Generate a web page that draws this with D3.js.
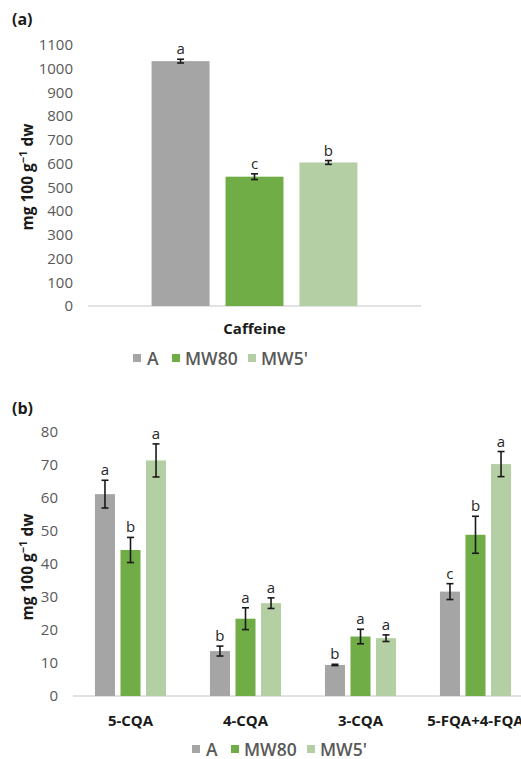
<!DOCTYPE html>
<html>
<head>
<meta charset="utf-8">
<script src="https://cdn.jsdelivr.net/npm/d3@7"></script>
<style>
  html, body { margin: 0; padding: 0; background: #fff; }
  svg { display: block; font-family: "Open Sans", "DejaVu Sans", sans-serif; }
</style>
</head>
<body>
<svg id="chart" width="521" height="759"></svg>
<script>
// Treatments shared by both panels
const series = ["A", "MW80", "MW5'"];
const seriesColors = ["#a5a5a5", "#70ad47", "#b3cfa3"];

// Panel (a): caffeine
const catsA = ["Caffeine"];
const meanA = [[1032], [545], [605]];     // per series, per category
const errA = [[8], [12], [8]];
const lettersA = [["a"], ["c"], ["b"]];
const ticksA = [0, 100, 200, 300, 400, 500, 600, 700, 800, 900, 1000, 1100];

// Panel (b): chlorogenic acids
const catsB = ["5-CQA", "4-CQA", "3-CQA", "5-FQA+4-FQA"];
const meanB = [
  [61.1, 13.6, 9.4, 31.6],
  [44.2, 23.4, 18.0, 48.8],
  [71.3, 28.1, 17.5, 70.2]
];
const errB = [
  [4.2, 1.5, 0.2, 2.4],
  [3.8, 3.3, 2.2, 5.6],
  [5.0, 1.6, 1.0, 3.8]
];
const lettersB = [
  ["a", "b", "b", "c"],
  ["b", "a", "a", "b"],
  ["a", "a", "a", "a"]
];
const ticksB = [0, 10, 20, 30, 40, 50, 60, 70, 80];

const svg = d3.select("#chart");

function panel(opts) {
  const g = svg.append("g");
  const y = d3.scaleLinear().domain(opts.domain).range([opts.bottom, opts.top]);
  const x0 = d3.scaleBand().domain(opts.cats).range([opts.left, opts.right]).padding(0);
  const x1 = d3.scaleBand().domain(series).range([0, x0.bandwidth()])
    .paddingInner(0.216).paddingOuter(0.86);

  // value axis labels
  const ax = g.append("g")
    .attr("transform", `translate(${opts.left},0)`)
    .call(d3.axisLeft(y).tickValues(opts.ticks).tickFormat(d3.format("d"))
      .tickSize(0).tickPadding(15));
  ax.select(".domain").remove();
  ax.selectAll("text")
    .attr("fill", "#595959")
    .style("font-size", "15px")
    .style("font-family", "'Open Sans', sans-serif");

  // baseline
  g.append("line")
    .attr("x1", opts.left).attr("x2", opts.right)
    .attr("y1", y(0)).attr("y2", y(0))
    .attr("stroke", "#d9d9d9").attr("stroke-width", 1.5);

  // bars, error bars, letters
  series.forEach((s, si) => {
    const sg = g.append("g");
    opts.cats.forEach((c, ci) => {
      const v = opts.mean[si][ci], e = opts.err[si][ci];
      const bx = x0(c) + x1(s), bw = x1.bandwidth(), cx = bx + bw / 2;
      sg.append("rect")
        .attr("x", bx).attr("y", y(v))
        .attr("width", bw).attr("height", y(0) - y(v))
        .attr("fill", seriesColors[si]);
      const eg = sg.append("g").attr("stroke", "#1a1a1a").attr("stroke-width", 1.6);
      eg.append("line").attr("x1", cx).attr("x2", cx).attr("y1", y(v + e)).attr("y2", y(v - e));
      [v + e, v - e].forEach(t => eg.append("line")
        .attr("x1", cx - 3.5).attr("x2", cx + 3.5).attr("y1", y(t)).attr("y2", y(t)));
      sg.append("text")
        .attr("x", cx).attr("y", y(v + e) - 5)
        .attr("text-anchor", "middle")
        .attr("fill", "#262626")
        .style("font-size", "15px")
        .text(opts.letters[si][ci]);
    });
  });

  // category labels
  opts.cats.forEach(c => {
    g.append("text")
      .attr("x", x0(c) + x0.bandwidth() / 2).attr("y", opts.catY)
      .attr("text-anchor", "middle")
      .attr("fill", "#1a1a1a")
      .style("font-size", "15px").style("font-weight", "700")
      .text(c);
  });

  // axis title
  const t = g.append("text")
    .attr("transform", `translate(33,${opts.titleY}) rotate(-90)`)
    .attr("text-anchor", "middle")
    .attr("fill", "#1a1a1a")
    .style("font-size", "15.5px").style("font-weight", "700");
  t.append("tspan").text("mg 100 g");
  t.append("tspan").attr("dy", -6).style("font-size", "11px").text("\u22121");
  t.append("tspan").attr("dy", 6).text(" dw");

  // panel tag
  svg.append("text")
    .attr("x", 12).attr("y", opts.tagY)
    .attr("fill", "#1a1a1a")
    .style("font-size", "16px").style("font-weight", "700")
    .text(opts.tag);

  // legend
  const lg = g.append("g");
  const lx = opts.legendX;
  const boxX = [lx, lx + 39, lx + 115];
  const textX = [lx + 14, lx + 52, lx + 128];
  series.forEach((s, si) => {
    lg.append("rect")
      .attr("x", boxX[si]).attr("y", opts.legendY - 4)
      .attr("width", 8).attr("height", 8)
      .attr("fill", seriesColors[si]);
    lg.append("text")
      .attr("x", textX[si]).attr("y", opts.legendY + 6.5)
      .attr("fill", "#595959")
      .style("font-size", "17.5px").style("font-weight", "600")
      .text(s);
  });
}

panel({
  cats: catsA, mean: meanA, err: errA, letters: lettersA, ticks: ticksA,
  domain: [0, 1100], top: 45, bottom: 306, left: 88, right: 421,
  catY: 334, titleY: 177, tag: "(a)", tagY: 25, legendX: 133, legendY: 358
});

panel({
  cats: catsB, mean: meanB, err: errB, letters: lettersB, ticks: ticksB,
  domain: [0, 80], top: 431.7, bottom: 696, left: 73, right: 533,
  catY: 726, titleY: 567, tag: "(b)", tagY: 414, legendX: 192, legendY: 749
});
</script>
</body>
</html>
